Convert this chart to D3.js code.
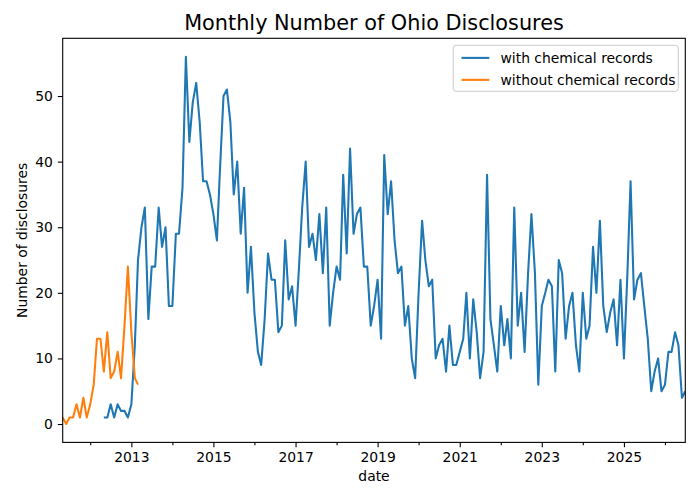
<!DOCTYPE html>
<html>
<head>
<meta charset="utf-8">
<script src="https://cdn.jsdelivr.net/npm/d3@7"></script>
<style>
body { margin: 0; background: #ffffff; }
text { font-family: "DejaVu Sans", sans-serif; fill: #000; }
</style>
</head>
<body>
<div id="body"></div>
<script>
// ---- data (monthly counts) ----
var withStart = "2012-05";                 // first month of the blue series
var withValues = [
    1, 1, 3, 1, 3, 2, 2, 1, 3, 12, 25,
    30, 33, 16, 24, 24, 33, 27, 30, 18, 18, 29, 29, 36, 56, 43, 49, 52, 46, 37, 37,
    35, 32, 28, 39, 50, 51, 46, 35, 40, 29, 36, 20, 27, 17, 11, 9, 16, 26, 22, 22, 14, 15,
    28, 19, 21, 15, 24, 33, 40, 27, 29, 25, 32, 23, 33, 15, 20, 24, 22,
    38, 26, 42, 29, 32, 33, 24, 24, 15, 18, 22, 13, 41, 32, 37, 28, 23, 24, 15, 18,
    10, 7, 20, 31, 25, 21, 22, 10, 12, 13, 8, 15, 9, 9, 11, 13, 20, 10, 19, 14, 7,
    11, 38, 16, 12, 8, 18, 12, 16, 10, 33, 15, 20, 11, 23, 32, 23, 6, 18, 20,
    22, 21, 8, 25, 23, 13, 18, 20, 12, 8, 20, 13, 15, 27, 20, 31, 18, 14, 17, 19, 12,
    22, 10, 23, 37, 19, 22, 23, 18, 13, 5, 8, 10, 5, 6, 11, 11, 14, 12, 4, 5
];
var withoutStart = "2011-05";              // first month of the orange series
var withoutValues = [1, 0, 1, 1, 3, 1, 4, 1, 3, 6, 13, 13, 8, 14, 7, 8, 11, 7, 15, 24, 14, 7, 6];

var seriesNames = ["with chemical records", "without chemical records"];
var majorYears = [2013, 2015, 2017, 2019, 2021, 2023, 2025];
var minorYears = [2012, 2014, 2016, 2018, 2020, 2022, 2024, 2026];
var yTicks = [0, 10, 20, 30, 40, 50];

var width = 700, height = 500;
var margin = {top: 38.3, right: 14.7, bottom: 57.6, left: 62.7};
var plotW = width - margin.left - margin.right;
var plotH = height - margin.top - margin.bottom;

var parseMonth = d3.utcParse("%Y-%m");

// turn a start month + values into [{date, value}]
function toPoints(start, values){
    var s = parseMonth(start);
    return values.map(function(v, i){
        return {date: d3.utcMonth.offset(s, i), value: v};
    });
}

var dataList = [
    {name: seriesNames[0], color: "#1f77b4", points: toPoints(withStart, withValues)},
    {name: seriesNames[1], color: "#ff7f0e", points: toPoints(withoutStart, withoutValues)}
];

var svg = d3.select("#body")
    .append("svg")
    .attr("width", width)
    .attr("height", height);

// x range is exactly the data range (pandas style)
var allDates = dataList[0].points.concat(dataList[1].points).map(function(d){ return d.date; });
var xScale = d3.scaleUtc()
    .domain(d3.extent(allDates))
    .range([0, plotW]);

// y with 5% margins like matplotlib
var yMin = d3.min(dataList, function(s){ return d3.min(s.points, function(d){ return d.value; }); });
var yMax = d3.max(dataList, function(s){ return d3.max(s.points, function(d){ return d.value; }); });
var pad = (yMax - yMin) * 0.05;
var yScale = d3.scaleLinear()
    .domain([yMin - pad, yMax + pad])
    .range([plotH, 0]);

var g = svg.append("g")
    .attr("transform", "translate(" + margin.left + "," + margin.top + ")");

g.append("clipPath").attr("id", "clip")
    .append("rect").attr("width", plotW).attr("height", plotH);

var linePath = d3.line()
    .x(function(d){ return xScale(d.date); })
    .y(function(d){ return yScale(d.value); });

g.append("g").attr("clip-path", "url(#clip)")
    .selectAll("path")
    .data(dataList)
    .enter()
    .append("path")
    .attr("d", function(d){ return linePath(d.points); })
    .attr("fill", "none")
    .attr("stroke", function(d){ return d.color; })
    .attr("stroke-width", 2.08)
    .attr("stroke-linejoin", "round");

// axes
var yearDate = function(y){ return new Date(Date.UTC(y, 0, 1)); };

var xAxis = d3.axisBottom(xScale)
    .tickValues(majorYears.map(yearDate))
    .tickFormat(d3.utcFormat("%Y"))
    .tickSize(4.9)
    .tickPadding(4.9)
    .tickSizeOuter(0);
var xMinor = d3.axisBottom(xScale)
    .tickValues(minorYears.map(yearDate).filter(function(d){ return xScale(d) <= plotW; }))
    .tickFormat("")
    .tickSize(2.8)
    .tickSizeOuter(0);
var yAxis = d3.axisLeft(yScale)
    .tickValues(yTicks)
    .tickSize(4.9)
    .tickPadding(4.9)
    .tickSizeOuter(0);

var gx = g.append("g").attr("transform", "translate(0," + plotH + ")").call(xAxis);
var gxm = g.append("g").attr("transform", "translate(0," + plotH + ")").call(xMinor);
var gy = g.append("g").call(yAxis);

[gx, gxm, gy].forEach(function(a){
    a.select(".domain").remove();
    a.selectAll("line").attr("stroke", "#000").attr("stroke-width", 1.1);
    a.selectAll("text").attr("font-size", "13.9px").attr("font-family", "DejaVu Sans");
});

// frame
g.append("rect")
    .attr("width", plotW).attr("height", plotH)
    .attr("fill", "none").attr("stroke", "#000").attr("stroke-width", 1.1);

// title and labels
svg.append("text")
    .attr("x", margin.left + plotW / 2).attr("y", 30)
    .attr("text-anchor", "middle")
    .attr("font-size", "20.8px")
    .text("Monthly Number of Ohio Disclosures");

svg.append("text")
    .attr("x", margin.left + plotW / 2).attr("y", 481)
    .attr("text-anchor", "middle")
    .attr("font-size", "13.9px")
    .text("date");

svg.append("text")
    .attr("transform", "translate(26.5," + (margin.top + plotH / 2) + ") rotate(-90)")
    .attr("text-anchor", "middle")
    .attr("font-size", "13.9px")
    .text("Number of disclosures");

// legend (upper right)
var fs = 13.9;
var legend = g.append("g");
var box = legend.append("rect")
    .attr("fill", "#fff").attr("fill-opacity", 0.8)
    .attr("stroke", "#cccccc").attr("stroke-width", 1)
    .attr("rx", 2.8).attr("ry", 2.8);

var items = legend.selectAll(".item")
    .data(dataList)
    .enter()
    .append("g");
items.append("line")
    .attr("x1", 0).attr("x2", 2 * fs)
    .attr("y1", function(d, i){ return i * 1.58 * fs; })
    .attr("y2", function(d, i){ return i * 1.58 * fs; })
    .attr("stroke", function(d){ return d.color; })
    .attr("stroke-width", 2.08);
items.append("text")
    .attr("x", 2.8 * fs)
    .attr("y", function(d, i){ return i * 1.58 * fs; })
    .attr("dy", "0.36em")
    .attr("font-size", fs + "px")
    .text(function(d){ return d.name; });

var textW = d3.max(items.selectAll("text").nodes(), function(n){ return n.getComputedTextLength(); });
var boxW = 0.4 * fs + 2.8 * fs + textW + 0.4 * fs;
var boxH = 46;
var boxX = plotW - 7 - boxW;
var boxY = 7;
box.attr("x", boxX).attr("y", boxY).attr("width", boxW).attr("height", boxH);
items.attr("transform", "translate(" + (boxX + 0.6 * fs) + "," + (boxY + 12.6) + ")");
</script>
</body>
</html>
